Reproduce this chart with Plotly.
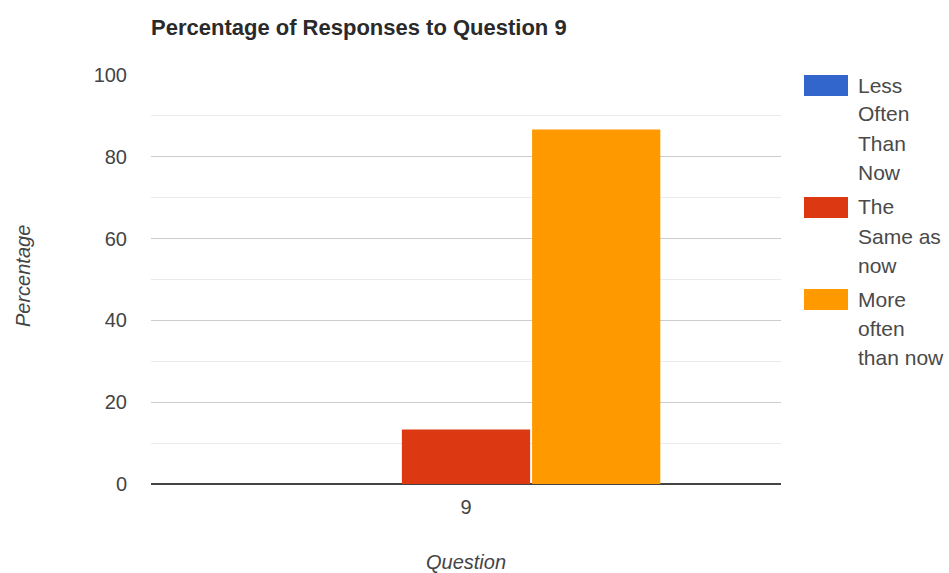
import plotly.graph_objects as go

categories = ["9"]
series_names = ["Less Often Than Now", "The Same as now", "More often than now"]
legend_lines = [["Less", "Often", "Than", "Now"], ["The", "Same as", "now"], ["More", "often", "than now"]]
series_values = [[0.0], [13.3], [86.7]]
colors = ["#3366cc", "#dc3912", "#ff9900"]
y_ticks = [0, 20, 40, 60, 80, 100]

W, H = 949, 573
L, R, T, B = 151, 168, 75, 89
PW, PH = W - L - R, H - T - B
FONT = "Arial, 'Liberation Sans', sans-serif"


def px_x(x):
    return (x - L) / PW


def px_y(y):
    return 1 - (y - T) / PH


fig = go.Figure()
for name, vals, c in zip(series_names, series_values, colors):
    fig.add_trace(go.Bar(x=categories, y=vals, name=name, marker=dict(color=c, line=dict(width=0)),
                         showlegend=False))

# custom legend (wide swatches + wrapped text)
first_line_centers = [85, 207, 299]
line_step = 29
shapes = []
annotations = []
for lines, c, cy in zip(legend_lines, colors, first_line_centers):
    shapes.append(dict(type="rect", xref="paper", yref="paper",
                       x0=px_x(804), x1=px_x(848), y0=px_y(cy + 11), y1=px_y(cy - 10),
                       fillcolor=c, line=dict(width=0)))
    for i, ln in enumerate(lines):
        annotations.append(dict(text=ln, xref="paper", yref="paper",
                                x=px_x(856), y=px_y(cy + i * line_step),
                                xanchor="left", yanchor="middle", align="left", showarrow=False,
                                font=dict(family=FONT, size=21, color="#4a4a4a")))

annotations.append(dict(text="<i>Percentage</i>", xref="paper", yref="paper",
                        x=px_x(23), y=px_y(276),
                        xanchor="center", yanchor="middle", textangle=-90, showarrow=False,
                        font=dict(family=FONT, size=20, color="#444444")))
annotations.append(dict(text="<i>Question</i>", xref="paper", yref="paper",
                        x=px_x(466), y=px_y(562),
                        xanchor="center", yanchor="middle", showarrow=False,
                        font=dict(family=FONT, size=20, color="#444444")))

fig.update_layout(
    width=W, height=H,
    margin=dict(l=L, r=R, t=T, b=B, autoexpand=False),
    paper_bgcolor="white", plot_bgcolor="white",
    barmode="group", bargap=0.38, bargroupgap=0.015,
    title=dict(text="<b>Percentage of Responses to Question 9</b>", xref="container", yref="container",
               x=151 / W, y=1 - 27 / H, xanchor="left", yanchor="middle",
               font=dict(family=FONT, size=22, color="#2a2a2a")),
    font=dict(family=FONT),
    shapes=shapes, annotations=annotations,
    xaxis=dict(type="category", showgrid=False, showline=False, zeroline=False,
               ticks="outside", ticklen=5, tickcolor="rgba(0,0,0,0)",
               tickfont=dict(family=FONT, size=20, color="#444444")),
    yaxis=dict(range=[0, 100], tickvals=y_ticks, showgrid=True, gridcolor="#cccccc", gridwidth=1,
               minor=dict(dtick=10, showgrid=True, gridcolor="#ebebeb", gridwidth=1),
               zeroline=True, zerolinecolor="#444444", zerolinewidth=2,
               showline=False, ticks="outside", ticklen=19, tickcolor="rgba(0,0,0,0)",
               tickfont=dict(family=FONT, size=20, color="#444444")),
)

fig.write_html("out.html")
